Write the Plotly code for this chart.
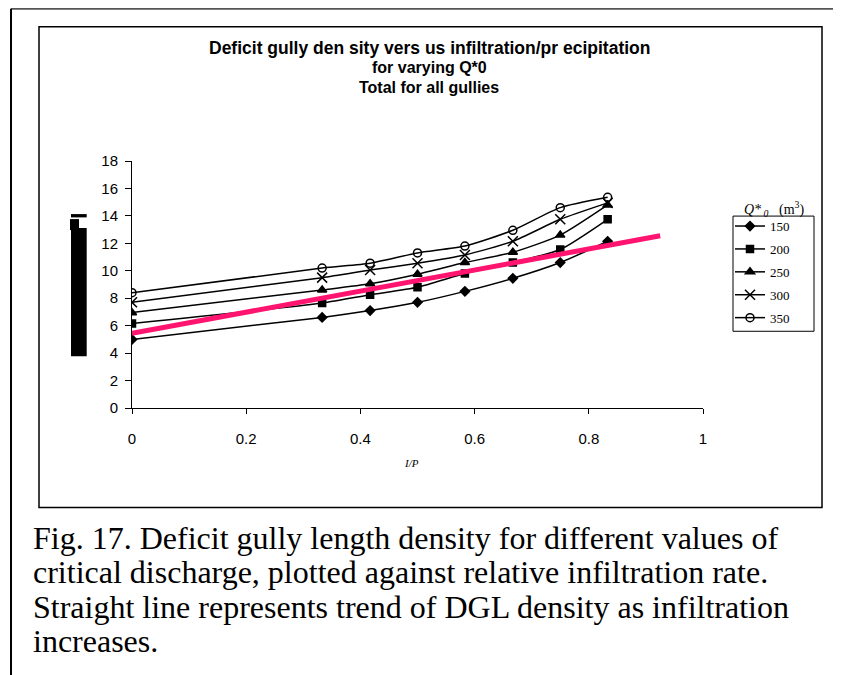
import plotly.graph_objects as go

# I/P values (x axis) and deficit gully density for each Q*0
ip = [0, 0.333, 0.417, 0.5, 0.583, 0.667, 0.75, 0.833]
q150 = [5.0, 6.6, 7.1, 7.7, 8.5, 9.45, 10.6, 12.15]
q200 = [6.15, 7.65, 8.25, 8.8, 9.8, 10.6, 11.55, 13.75]
q250 = [6.95, 8.6, 9.05, 9.75, 10.6, 11.35, 12.6, 14.8]
q300 = [7.7, 9.5, 10.05, 10.55, 11.15, 12.15, 13.75, 14.95]
q350 = [8.4, 10.2, 10.55, 11.3, 11.8, 12.95, 14.6, 15.35]

trend_x = [0, 0.925]
trend_y = [5.45, 12.55]

series = [
    ("150", q150, "diamond", 7),
    ("200", q200, "square", 7),
    ("250", q250, "triangle-up", 8),
    ("300", q300, "x-thin-open", 10),
    ("350", q350, "circle-open", 8),
]

OFF = 8  # page body margin
W, H = 841 - OFF, 675 - OFF
# plot area, page pixels
X0, X1 = 132, 703
Y0, Y1 = 407.6, 161


def px(x):
    return (x - X0) / (X1 - X0)


def py(y):
    return (Y0 - y) / (Y0 - Y1)


fig = go.Figure()

for name, vals, sym, size in series:
    fig.add_trace(go.Scatter(
        x=ip, y=vals, name=name, mode="lines+markers", legendgroup=name,
        line=dict(color="black", width=1.5, shape="spline", smoothing=0.6),
        marker=dict(symbol=sym, size=size, color="black",
                    line=dict(color="black", width=1.5)),
    ))

fig.add_trace(go.Scatter(
    x=trend_x, y=trend_y, mode="lines", showlegend=False,
    line=dict(color="#FF1470", width=5),
))

shapes = [
    # outer frame
    dict(type="line", xref="paper", yref="paper", x0=px(11), x1=px(850), y0=py(9), y1=py(9),
         line=dict(color="#555555", width=2)),
    dict(type="line", xref="paper", yref="paper", x0=px(11), x1=px(11), y0=py(9), y1=py(680),
         line=dict(color="black", width=2)),
    # chart box
    dict(type="rect", xref="paper", yref="paper", x0=px(39), x1=px(822), y0=py(27), y1=py(507),
         line=dict(color="black", width=1.5)),
    # legend box
    dict(type="rect", xref="paper", yref="paper", x0=px(733), x1=px(814), y0=py(216), y1=py(331),
         line=dict(color="black", width=1)),
    # garbled y-axis title block
    dict(type="rect", xref="paper", yref="paper", x0=px(71), x1=px(86.7), y0=py(228), y1=py(356),
         fillcolor="black", line=dict(width=0)),
    dict(type="rect", xref="paper", yref="paper", x0=px(70), x1=px(79), y0=py(219), y1=py(230),
         fillcolor="black", line=dict(width=0)),
    dict(type="rect", xref="paper", yref="paper", x0=px(71), x1=px(86.7), y0=py(214), y1=py(217.3),
         fillcolor="black", line=dict(width=0)),
]

title_lines = [
    "Deficit gully den sity vers us infiltration/pr ecipitation",
    "for varying Q*0",
    "Total for all gullies",
]
annotations = []
for i, t in enumerate(title_lines):
    annotations.append(dict(
        text="<b>%s</b>" % t, xref="paper", yref="paper", x=px(429), y=py(48 + 20 * i),
        showarrow=False, xanchor="center", yanchor="middle",
        font=dict(family="Liberation Sans, Arial", size=16 if i else 17.5, color="black"),
    ))

annotations.append(dict(
    text="<i>I/P</i>", xref="paper", yref="paper", x=px(411), y=py(470),
    showarrow=False, xanchor="center",
    font=dict(family="Liberation Serif", size=11, color="black"),
))
annotations.append(dict(
    text="<i>Q*</i><sub><i> 0</i></sub>   (m<sup>3</sup>)", xref="paper", yref="paper",
    x=px(774), y=py(221), showarrow=False, xanchor="center", yanchor="bottom",
    font=dict(family="Liberation Serif", size=14, color="black"),
))

caption = [
    "Fig. 17. Deficit gully length density for different values of",
    "critical discharge, plotted against relative infiltration rate.",
    "Straight line represents trend of DGL density as infiltration",
    "increases.",
]
for i, t in enumerate(caption):
    annotations.append(dict(
        text=t, xref="paper", yref="paper", x=px(31), y=py(537 + 34.5 * i),
        showarrow=False, xanchor="left", yanchor="middle",
        font=dict(family="Liberation Serif", size=32, color="black"),
    ))

fig.update_layout(
    width=W, height=H,
    paper_bgcolor="white", plot_bgcolor="white",
    margin=dict(l=X0 - OFF, r=W - (X1 - OFF), t=Y1 - OFF, b=H - (Y0 - OFF), pad=0),
    showlegend=True,
    legend=dict(
        x=px(730), y=py(211), xanchor="left", yanchor="top",
        bgcolor="rgba(0,0,0,0)", borderwidth=0,
        font=dict(family="Liberation Serif", size=13, color="black"),
        itemwidth=30, tracegroupgap=3,
    ),
    font=dict(family="Liberation Sans, Arial", color="black"),
    shapes=shapes,
    annotations=annotations,
    xaxis=dict(
        range=[0, 1], tickvals=[0, 0.2, 0.4, 0.6, 0.8, 1], ticktext=["0", "0.2", "0.4", "0.6", "0.8", "1"],
        showgrid=False, zeroline=False, showline=True, linecolor="black", linewidth=1,
        ticks="outside", ticklen=5, tickcolor="black", ticklabelstandoff=12,
        tickfont=dict(size=15, family="Liberation Sans, Arial", color="black"),
    ),
    yaxis=dict(
        range=[0, 18], dtick=2,
        showgrid=False, zeroline=False, showline=True, linecolor="black", linewidth=1,
        ticks="outside", ticklen=6, tickcolor="black", ticklabelstandoff=4,
        tickfont=dict(size=15, family="Liberation Sans, Arial", color="black"),
    ),
)

fig.write_html("out.html")
